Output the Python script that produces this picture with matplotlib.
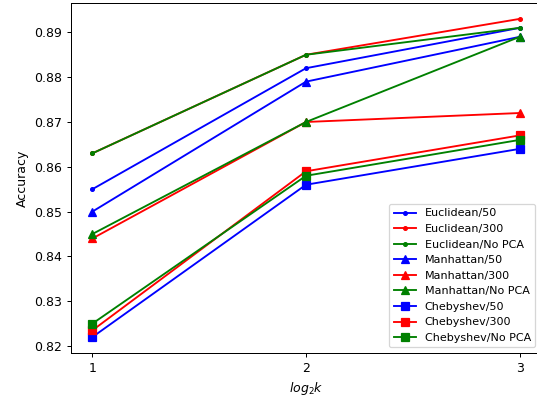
import matplotlib
matplotlib.use('Agg')
import matplotlib.pyplot as plt

x = [1, 2, 3]

euc_50 = [0.855, 0.882, 0.891]
euc_300 = [0.863, 0.885, 0.893]
euc_nopca = [0.863, 0.885, 0.891]
man_50 = [0.850, 0.879, 0.889]
man_300 = [0.844, 0.870, 0.872]
man_nopca = [0.845, 0.870, 0.889]
che_50 = [0.822, 0.856, 0.864]
che_300 = [0.8235, 0.859, 0.867]
che_nopca = [0.825, 0.858, 0.866]

DPI = 90
fig = plt.figure(figsize=(537 / DPI, 398 / DPI), dpi=DPI)
# axes runs a little past the right edge, like the cropped original
ax = fig.add_axes([71 / 537, 1 - 353 / 398, 470 / 537, 350 / 398])

ax.plot(x, euc_50, 'b.-', label='Euclidean/50')
ax.plot(x, euc_300, 'r.-', label='Euclidean/300')
ax.plot(x, euc_nopca, 'g.-', label='Euclidean/No PCA')
ax.plot(x, man_50, 'b^-', markersize=7, label='Manhattan/50')
ax.plot(x, man_300, 'r^-', markersize=7, label='Manhattan/300')
ax.plot(x, man_nopca, 'g^-', markersize=7, label='Manhattan/No PCA')
ax.plot(x, che_50, 'bs-', markersize=7, label='Chebyshev/50')
ax.plot(x, che_300, 'rs-', markersize=7, label='Chebyshev/300')
ax.plot(x, che_nopca, 'gs-', markersize=7, label='Chebyshev/No PCA')

ax.set_xticks(x)
ax.set_xlabel('$log_2k$')
ax.set_ylabel('Accuracy')
ax.legend(loc='lower right', fontsize=8.9)

fig.savefig('out.png', dpi=DPI)
